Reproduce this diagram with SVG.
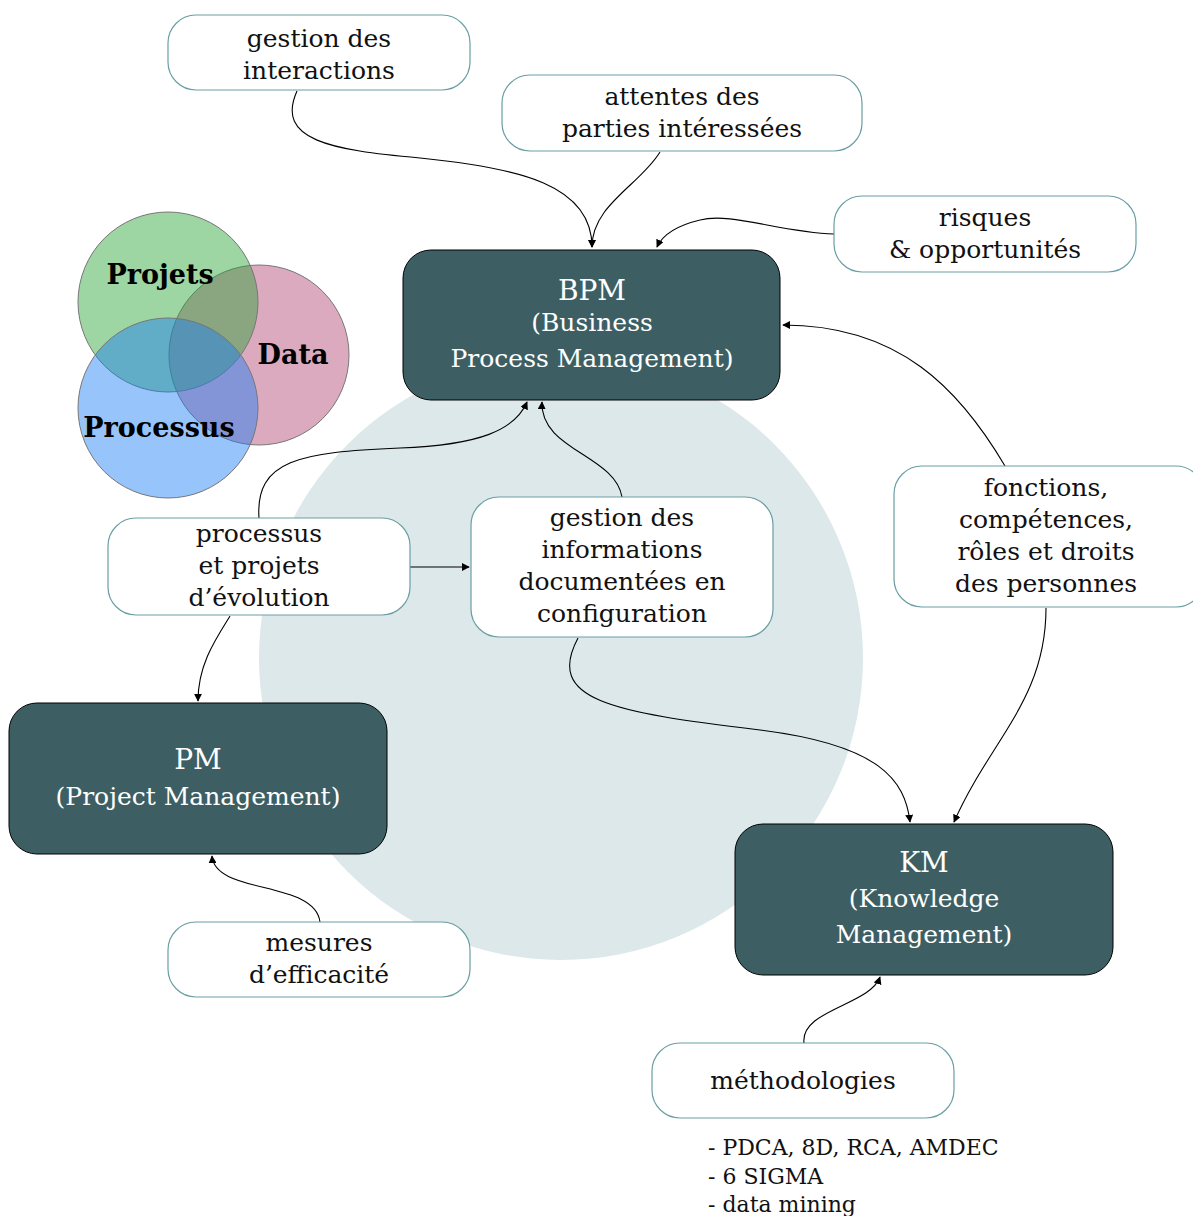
<svg xmlns="http://www.w3.org/2000/svg" width="1193" height="1216" viewBox="0 0 1193 1216">
<defs>
<style>
.dark{fill:#3d5f63;stroke:#000;stroke-width:1}
.light{fill:#fff;stroke:#6a9ea3;stroke-width:1.2}
.t{font-family:"DejaVu Serif","Noto Serif",serif;font-size:25px;fill:#111;text-anchor:middle}
.tw{font-family:"DejaVu Serif","Noto Serif",serif;font-size:25px;fill:#fff;text-anchor:middle}
.big{font-size:28px}
.lst{font-family:"DejaVu Serif","Noto Serif",serif;font-size:22px;fill:#111}
.vb{font-family:"DejaVu Serif","Noto Serif",serif;font-size:27px;font-weight:bold;fill:#000;text-anchor:middle}
.c{fill:none;stroke:#000;stroke-width:1.1;marker-end:url(#ah)}
.venn{stroke:#777;stroke-width:1;fill-opacity:0.45}
</style>
<marker id="ah" viewBox="0 0 10 10" refX="9" refY="5" markerWidth="8" markerHeight="8" markerUnits="userSpaceOnUse" orient="auto">
<path d="M0,0 L10,5 L0,10 z" fill="#000"/>
</marker>
</defs>
<rect width="1193" height="1216" fill="#fff"/>
<circle cx="561" cy="658" r="302" fill="#dce8ea"/>
<g id="venn">
<circle class="venn" cx="259" cy="355" r="90" fill="rgb(175,66,113)"/>
<circle class="venn" cx="168" cy="302" r="90" fill="rgb(37,162,51)"/>
<circle class="venn" cx="168" cy="408" r="90" fill="rgb(24,124,244)"/>
<text class="vb" x="160" y="284">Projets</text>
<text class="vb" x="293" y="364">Data</text>
<text class="vb" x="159" y="437">Processus</text>
</g>
<g id="connectors">
<path class="c" d="M297,91 C275,140 330,150 420,158 C520,168 592,185 592,247"/>
<path class="c" d="M660,152 C640,185 592,205 592,247"/>
<path class="c" d="M834,234 C780,232 730,212 700,220 C675,226 662,236 657,247"/>
<path class="c" d="M1005,466 C960,390 900,325 783,325"/>
<path class="c" d="M1046,608 C1046,700 990,740 954,822"/>
<path class="c" d="M259,518 C255,460 300,452 400,448 C480,445 515,430 527,402"/>
<path class="c" d="M622,497 C615,455 540,450 542,402"/>
<path class="c" d="M410,567 L469,567"/>
<path class="c" d="M230,616 C215,640 198,665 198,701"/>
<path class="c" d="M578,638 C545,700 610,712 760,730 C880,745 905,780 910,822"/>
<path class="c" d="M320,922 C315,880 215,895 212,856"/>
<path class="c" d="M804,1043 C800,1010 870,1005 880,977"/>
</g>
<g id="bpm">
<rect class="dark" x="403" y="250" width="377" height="150" rx="28"/>
<text class="tw big" x="592" y="300">BPM</text>
<text class="tw" x="592" y="331">(Business</text>
<text class="tw" x="592" y="367">Process Management)</text>
</g>
<g id="pm">
<rect class="dark" x="9" y="703" width="378" height="151" rx="28"/>
<text class="tw big" x="198" y="769">PM</text>
<text class="tw" x="198" y="805">(Project Management)</text>
</g>
<g id="km">
<rect class="dark" x="735" y="824" width="378" height="151" rx="28"/>
<text class="tw big" x="924" y="872">KM</text>
<text class="tw" x="924" y="907">(Knowledge</text>
<text class="tw" x="924" y="943">Management)</text>
</g>
<g id="interactions">
<rect class="light" x="168" y="15" width="302" height="75" rx="28"/>
<text class="t" x="319" y="47">gestion des</text>
<text class="t" x="319" y="79">interactions</text>
</g>
<g id="attentes">
<rect class="light" x="502" y="75" width="360" height="76" rx="28"/>
<text class="t" x="682" y="105">attentes des</text>
<text class="t" x="682" y="137">parties intéressées</text>
</g>
<g id="risques">
<rect class="light" x="834" y="196" width="302" height="76" rx="28"/>
<text class="t" x="985" y="226">risques</text>
<text class="t" x="985" y="258">&amp; opportunités</text>
</g>
<g id="processus">
<rect class="light" x="108" y="518" width="302" height="97" rx="28"/>
<text class="t" x="259" y="542">processus</text>
<text class="t" x="259" y="574">et projets</text>
<text class="t" x="259" y="606">d’évolution</text>
</g>
<g id="infos">
<rect class="light" x="471" y="497" width="302" height="140" rx="28"/>
<text class="t" x="622" y="526">gestion des</text>
<text class="t" x="622" y="558">informations</text>
<text class="t" x="622" y="590">documentées en</text>
<text class="t" x="622" y="622">configuration</text>
</g>
<g id="fonctions">
<rect class="light" x="894" y="466" width="310" height="141" rx="28"/>
<text class="t" x="1046" y="496">fonctions,</text>
<text class="t" x="1046" y="528">compétences,</text>
<text class="t" x="1046" y="560">rôles et droits</text>
<text class="t" x="1046" y="592">des personnes</text>
</g>
<g id="mesures">
<rect class="light" x="168" y="922" width="302" height="75" rx="28"/>
<text class="t" x="319" y="951">mesures</text>
<text class="t" x="319" y="983">d’efficacité</text>
</g>
<g id="methodologies">
<rect class="light" x="652" y="1043" width="302" height="75" rx="28"/>
<text class="t" x="803" y="1089">méthodologies</text>
</g>
<g id="list">
<text class="lst" x="708" y="1155">- PDCA, 8D, RCA, AMDEC</text>
<text class="lst" x="708" y="1184">- 6 SIGMA</text>
<text class="lst" x="708" y="1212">- data mining</text>
</g>
</svg>
